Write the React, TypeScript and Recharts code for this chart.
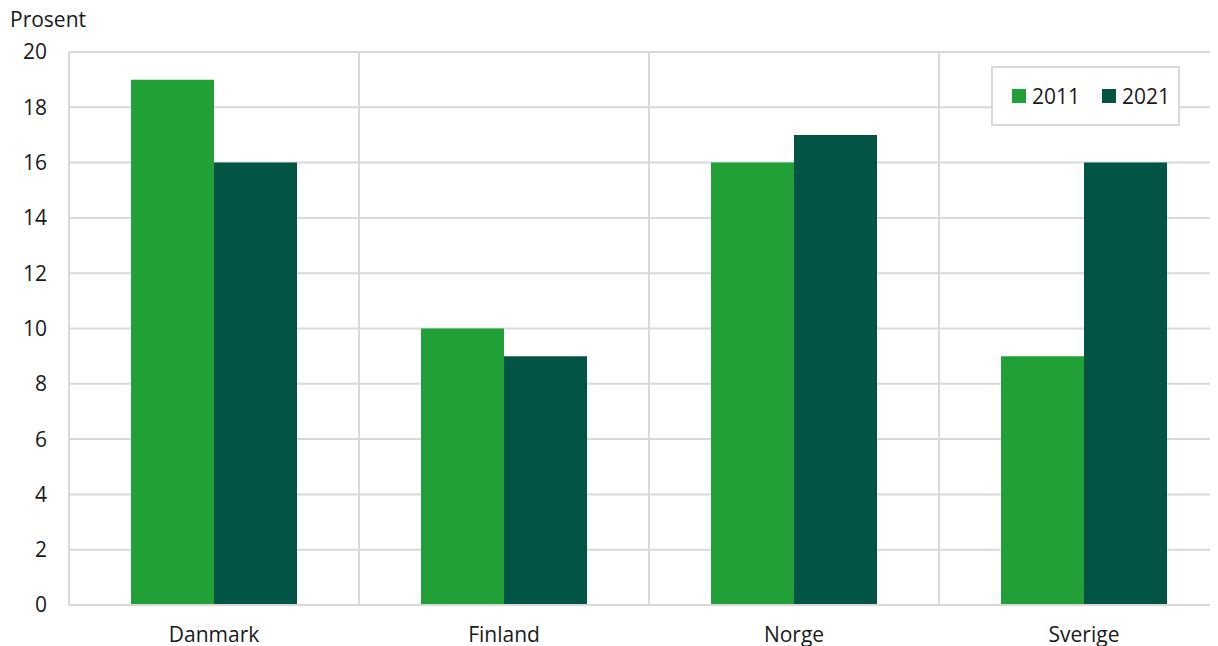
import { BarChart, Bar, XAxis, YAxis, CartesianGrid } from 'recharts';

const countries = ['Danmark', 'Finland', 'Norge', 'Sverige'];
const values2011 = [19, 10, 16, 9];
const values2021 = [16, 9, 17, 16];
const yTicks = [0, 2, 4, 6, 8, 10, 12, 14, 16, 18, 20];
const bandTicks = [0, 1, 2, 3, 4];

const series = [
  { key: 'y2011', name: '2011', color: '#21a038' },
  { key: 'y2021', name: '2021', color: '#025444' },
];

const data = countries.map((c, i) => ({
  country: c,
  band: i,
  y2011: values2011[i],
  y2021: values2021[i],
}));

const FONT = '"Open Sans", "Noto Sans", sans-serif';
const FS = 21;
const INK = '#1a1a1a';

function LegendBox() {
  return (
    <div style={{
      position: 'absolute', left: 983, top: 58, width: 189, height: 60,
      display: 'flex', alignItems: 'center', gap: 22,
      border: '2px solid #d9d9d9', background: '#fff',
      paddingLeft: 19, boxSizing: 'border-box',
      fontFamily: FONT, fontSize: FS, color: INK,
    }}>
      {series.map(s => (
        <div key={s.key} style={{ display: 'flex', alignItems: 'center', gap: 6 }}>
          <span style={{ width: 14, height: 14, background: s.color, display: 'inline-block' }} />
          <span>{s.name}</span>
        </div>
      ))}
    </div>
  );
}

export default function App() {
  // the original chart runs past the right and bottom edges, so clip it to the window
  return (
    <div style={{ width: 1210, height: 638, overflow: 'hidden' }}>
      <div style={{ position: 'relative', width: 1221, height: 660 }}>
        <div style={{
          position: 'absolute', left: 2, top: 0, fontFamily: FONT,
          fontSize: FS, color: INK, lineHeight: '22px',
        }}>
          Prosent
        </div>
        <BarChart
          width={1221}
          height={660}
          data={data}
          margin={{ top: 44, right: 0, bottom: 23, left: 0 }}
          barCategoryGap={62}
          barGap={0}
        >
          <CartesianGrid stroke="#d9d9d9" strokeWidth={2} xAxisId="grid" />
          <XAxis
            xAxisId="grid"
            type="number"
            dataKey="band"
            domain={[0, 4]}
            ticks={bandTicks}
            hide
          />
          <XAxis
            dataKey="country"
            axisLine={{ stroke: '#d9d9d9', strokeWidth: 2 }}
            tickLine={false}
            tickMargin={16}
            height={40}
            interval={0}
            tick={{ fontFamily: FONT, fontSize: FS, fill: INK }}
          />
          <YAxis
            domain={[0, 20]}
            ticks={yTicks}
            width={61}
            axisLine={{ stroke: '#d9d9d9', strokeWidth: 2 }}
            tickLine={false}
            tickSize={0}
            tickMargin={22}
            tick={{ fontFamily: FONT, fontSize: FS, fill: INK }}
          />
          {series.map(s => (
            <Bar
              key={s.key}
              dataKey={s.key}
              name={s.name}
              fill={s.color}
              isAnimationActive={false}
            />
          ))}
        </BarChart>
        <LegendBox />
      </div>
    </div>
  );
}
